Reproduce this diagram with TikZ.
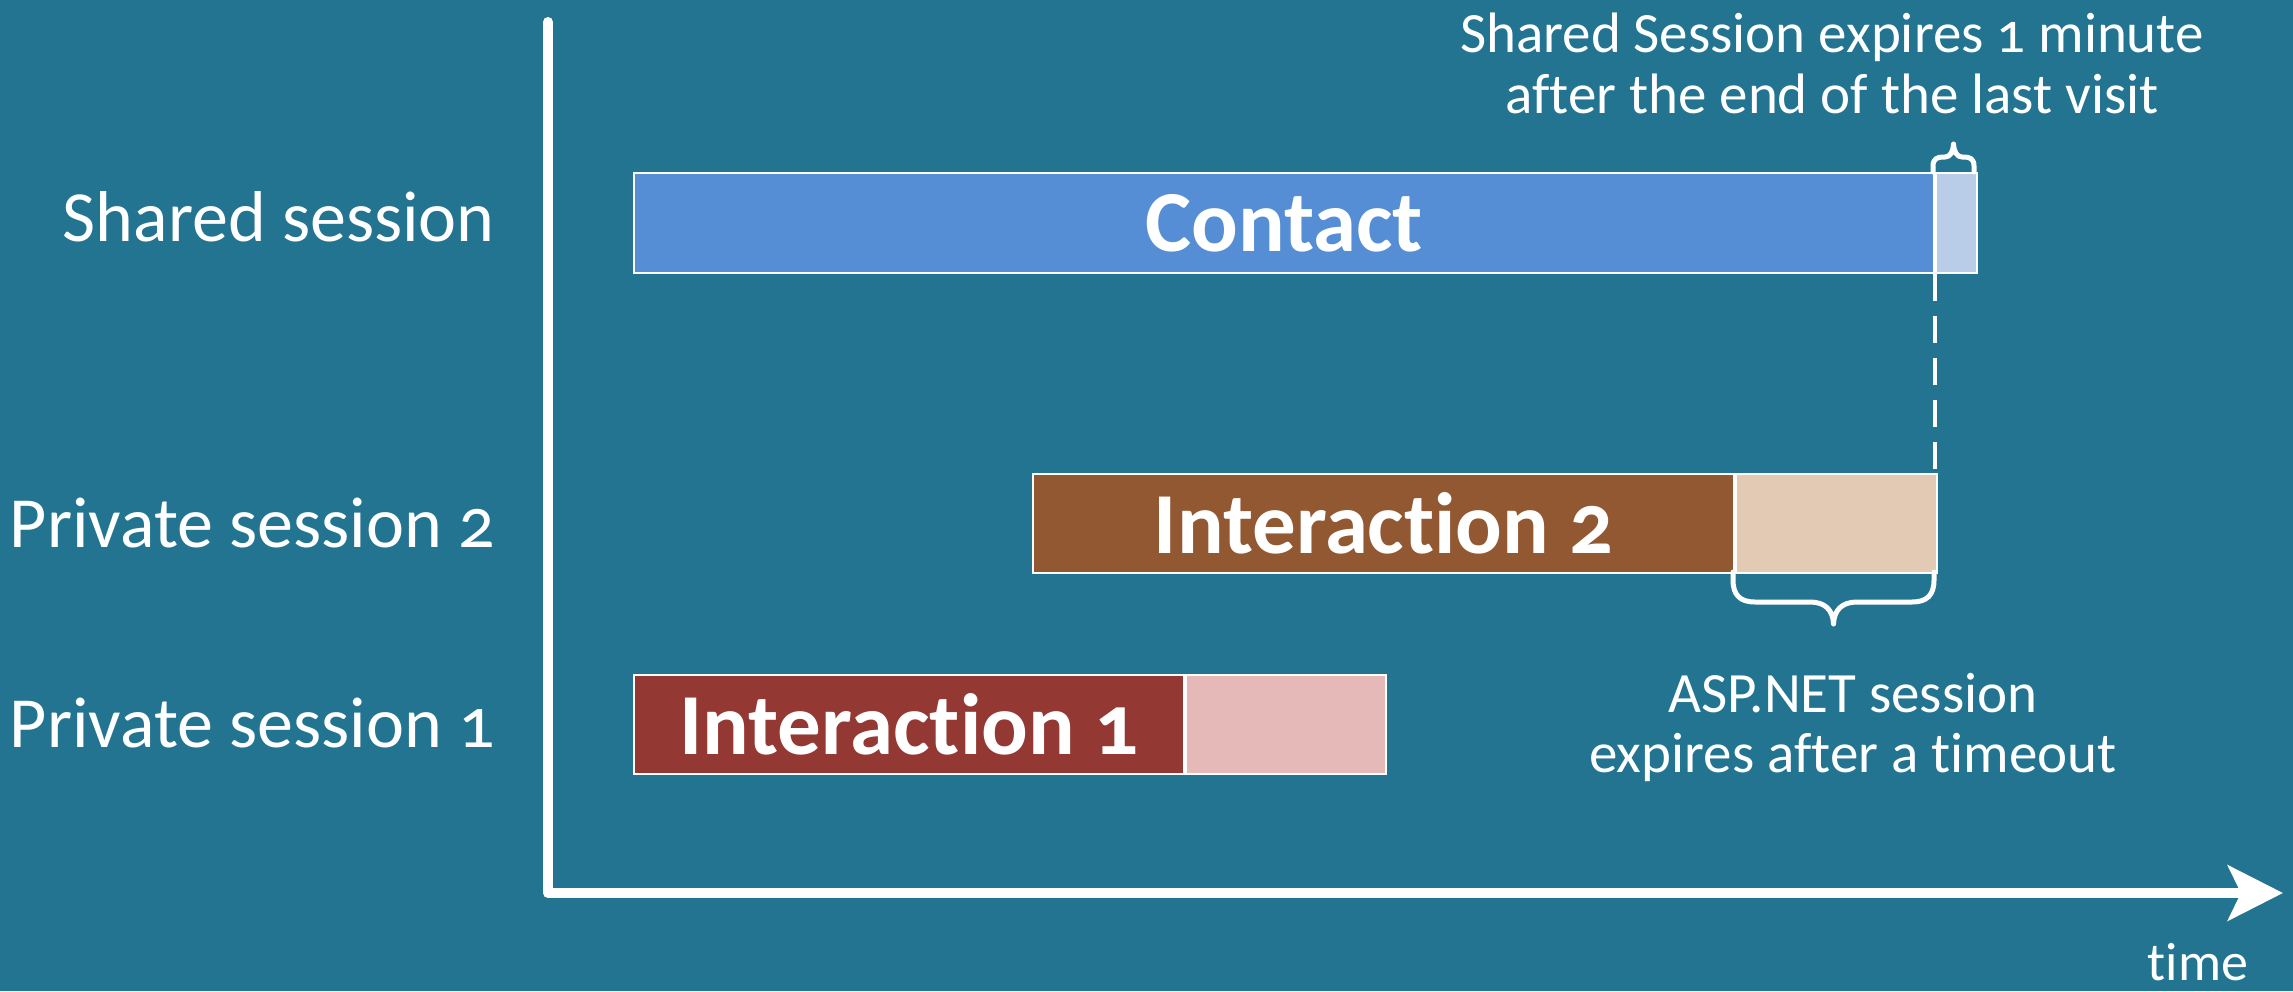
\documentclass[tikz,border=0pt]{standalone}
\usepackage{fontspec}
\setmainfont{Carlito}[Numbers=OldStyle, Ligatures=NoCommon]
\usetikzlibrary{arrows.meta}
\definecolor{bg}{RGB}{35,116,145}
\definecolor{cblue}{RGB}{85,142,213}
\definecolor{cblueL}{RGB}{185,205,233}
\definecolor{ibrown}{RGB}{146,88,50}
\definecolor{ibrownL}{RGB}{227,202,181}
\definecolor{ired}{RGB}{148,56,52}
\definecolor{iredL}{RGB}{229,185,183}
\begin{document}
\begin{tikzpicture}[x=1pt,y=-1pt,
  bar/.style={draw=white, line width=2pt, anchor=north west, inner sep=0pt, text=white,
    font=\fontsize{87}{100}\selectfont\bfseries},
  lbl/.style={text=white, font=\fontsize{72}{80}\selectfont, inner sep=0pt, anchor=base east},
  note/.style={text=white, font=\fontsize{57}{61}\selectfont, inner sep=0pt, anchor=base},
  brace/.style={draw=white, line width=5pt, line cap=round, line join=round},
  axis/.style={draw=white, line width=10pt, line cap=round, line join=round}]
\fill[bg] (0,0) rectangle (2293,991);
\useasboundingbox (0,0) rectangle (2293,991);

% bars
\node[bar, fill=cblue, minimum width=1300pt, minimum height=100pt] (contact) at (633,172) {Contact};
\node[bar, fill=cblueL, minimum width=41pt, minimum height=100pt] (contactx) at (contact.north east) {};
\node[bar, fill=ibrown, minimum width=701pt, minimum height=99pt] (int2) at (1032,473) {Interaction 2};
\node[bar, fill=ibrownL, minimum width=201pt, minimum height=99pt] (int2x) at (int2.north east) {};
\node[bar, fill=ired, minimum width=550pt, minimum height=99pt] (int1) at (633,674) {Interaction 1};
\node[bar, fill=iredL, minimum width=200pt, minimum height=99pt] (int1x) at (int1.north east) {};

% row labels
\node[lbl] (lshared) at (495,241) {Shared session};
\node[lbl] (lp2) at (495,547) {Private session 2};
\node[lbl] (lp1) at (495,747) {Private session 1};

% axes
\coordinate (ytop) at (548,22);
\coordinate (orig) at (548,893);
\coordinate (xtip) at (2283,893);
\draw[axis, -{Stealth[length=55pt,width=55pt,inset=13pt]}] (ytop) -- (orig) -- (xtip);
\node[note, font=\fontsize{54}{60}\selectfont] (time) at (2198,980) {time};

% dashed link
\draw[white, line width=3.5pt, dash pattern=on 27pt off 15pt] (contact.south east) -- (contact.south east |- int2x.north);

% top brace
\draw[brace] (1933,172) -- (1933,166) .. controls (1933,159) and (1937,157) .. (1943,157)
  -- (1945,157) .. controls (1950,157) and (1953,152) .. (1953.5,144)
  .. controls (1954,152) and (1957,157) .. (1962,157) -- (1964,157)
  .. controls (1970,157) and (1974,159) .. (1974,166) -- (1974,172);

% bottom brace
\draw[brace] (1733,572) -- (1733,580) .. controls (1733,595) and (1740,602) .. (1755,602)
  -- (1810,602) .. controls (1825,602) and (1833,610) .. (1833.5,624)
  .. controls (1834,610) and (1842,602) .. (1857,602) -- (1912,602)
  .. controls (1927,602) and (1934,595) .. (1934,580) -- (1934,572);

% annotations
\node[note] (n1a) at (1832,52) {Shared Session expires 1 minute};
\node[note] (n1b) at (1832,113) {after the end of the last visit};
\node[note] (n2a) at (1853,712) {ASP.NET session};
\node[note] (n2b) at (1853,772) {expires after a timeout};
\end{tikzpicture}
\end{document}
